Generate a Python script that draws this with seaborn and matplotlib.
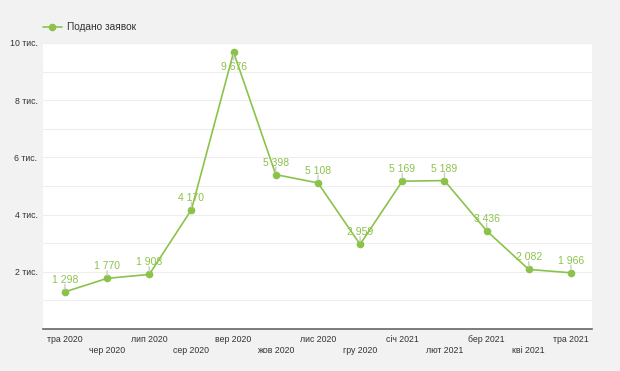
import matplotlib
matplotlib.use("Agg")
import matplotlib.pyplot as plt
import seaborn as sns
import pandas as pd
from matplotlib.ticker import FixedLocator, MultipleLocator

months = ["тра 2020", "чер 2020", "лип 2020", "сер 2020", "вер 2020", "жов 2020",
          "лис 2020", "гру 2020", "січ 2021", "лют 2021", "бер 2021", "кві 2021", "тра 2021"]
values = [1298, 1770, 1908, 4170, 9676, 5398, 5108, 2959, 5169, 5189, 3436, 2082, 1966]
series_name = "Подано заявок"
ytick_vals = [2000, 4000, 6000, 8000, 10000]
ytick_labels = ["2 тис.", "4 тис.", "6 тис.", "8 тис.", "10 тис."]

sns.set_theme(style="white")
plt.rcParams['font.family'] = ['Liberation Sans', 'DejaVu Sans']

green = "#8bc34a"
df = pd.DataFrame({"x": range(len(months)), "y": values, "s": series_name})

fig = plt.figure(figsize=(6.2, 3.71), dpi=100, facecolor="#f2f2f2")
ax = fig.add_axes([43/620, 1-329/371, (592-43)/620, (329-43)/371])
ax.set_facecolor("white")

sns.lineplot(data=df, x="x", y="y", hue="s", palette=[green], marker="o",
             markersize=5.5, markeredgewidth=0, linewidth=1.2, ax=ax, legend=False)

ax.set_xlim(-0.52, 12.5)
ax.set_ylim(0, 10000)
ax.yaxis.set_major_locator(FixedLocator(ytick_vals))
ax.set_yticklabels(ytick_labels)
ax.yaxis.set_minor_locator(MultipleLocator(1000))
ax.grid(True, which="both", axis="y", color="#eeeeee", linewidth=0.8)
ax.set_axisbelow(True)
for s in ["top", "right", "left"]:
    ax.spines[s].set_visible(False)
ax.spines["bottom"].set_color("#666666")
ax.spines["bottom"].set_linewidth(1.2)
ax.tick_params(axis="y", length=0, labelsize=6.3, labelcolor="#333333", pad=4)
ax.set_xlabel("")
ax.set_ylabel("")

ax.set_xticks(range(len(months)))
ax.set_xticklabels([])
ax.tick_params(axis="x", length=0)
for i, m in enumerate(months):
    off = -9.1 if i % 2 == 0 else -17.0
    ax.annotate(m, (i, 0), xytext=(0, off), textcoords="offset points",
                ha="center", va="baseline", fontsize=6.3, color="#333333",
                annotation_clip=False)

for i, v in enumerate(values):
    txt = f"{v:,}".replace(",", " ")
    if i == 4:
        ax.annotate(txt, (i, v), xytext=(0, -7.2), textcoords="offset points",
                    ha="center", va="top", fontsize=7.5, color=green)
        ax.annotate("", (i, v), xytext=(0, -5.5), textcoords="offset points",
                    arrowprops=dict(arrowstyle="-", color="#cccccc", lw=1,
                                    shrinkA=0, shrinkB=2))
    else:
        ax.annotate(txt, (i, v), xytext=(0, 6.5), textcoords="offset points",
                    ha="center", va="baseline", fontsize=7.5, color=green)
        ax.annotate("", (i, v), xytext=(0, 5.5), textcoords="offset points",
                    arrowprops=dict(arrowstyle="-", color="#cccccc", lw=1,
                                    shrinkA=0, shrinkB=2))

# legend
fig.lines.append(plt.Line2D([43/620, 62/620], [1-27/371, 1-27/371], transform=fig.transFigure,
                            color=green, lw=1.2, marker=None))
fig.lines.append(plt.Line2D([52.5/620], [1-27/371], transform=fig.transFigure,
                            color=green, marker="o", markersize=5.5, markeredgewidth=0))
fig.text(67/620, 1-27/371, series_name, ha="left", va="center", fontsize=7.3, color="#333333")

fig.savefig("out.png", dpi=100, facecolor=fig.get_facecolor())
